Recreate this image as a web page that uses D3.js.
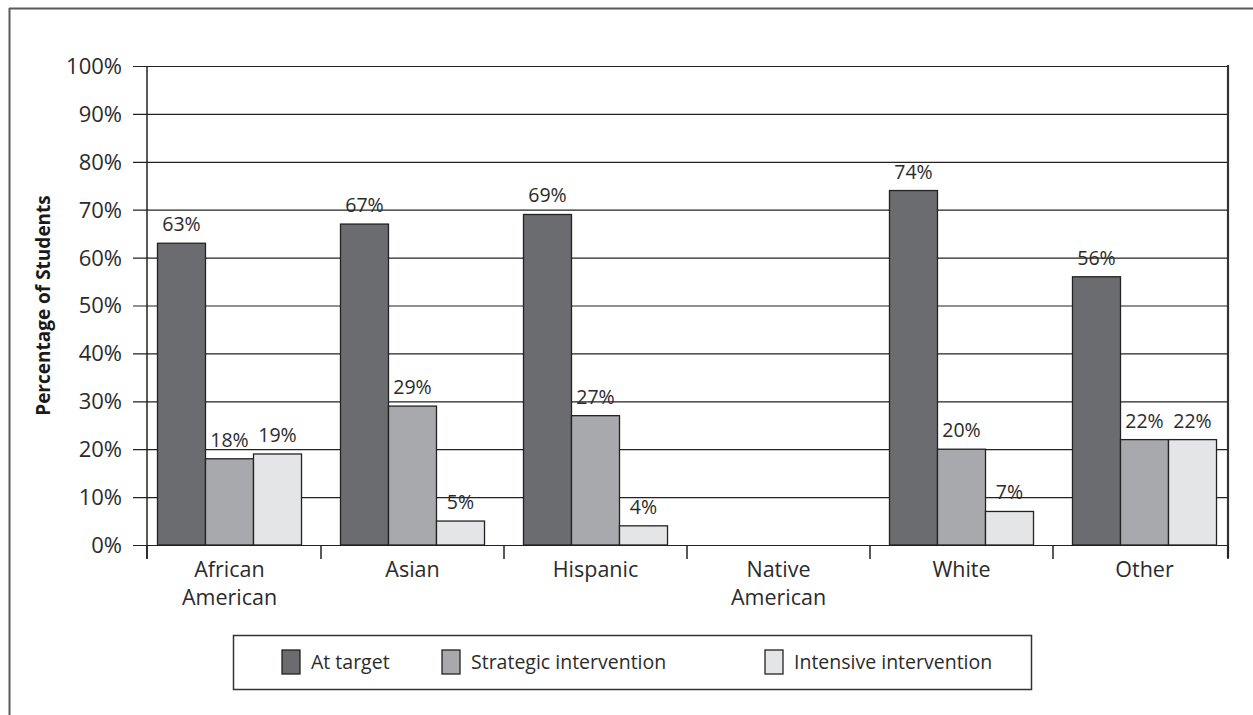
<!DOCTYPE html>
<html>
<head>
<meta charset="utf-8">
<script src="https://cdn.jsdelivr.net/npm/d3@7"></script>
<style>
  html, body { margin: 0; padding: 0; background: #fff; }
  svg { display: block; font-family: "Open Sans", Lato, sans-serif; }
</style>
</head>
<body>
<svg id="chart" width="1253" height="715"></svg>
<script>
// Student groups (two-line labels split on "\n")
const categories = ["African\nAmerican", "Asian", "Hispanic", "Native\nAmerican", "White", "Other"];
const seriesNames = ["At target", "Strategic intervention", "Intensive intervention"];
// Percent of students per group, one array per series (null = no data)
const atTarget = [63, 67, 69, null, 74, 56];
const strategic = [18, 29, 27, null, 20, 22];
const intensive = [19, 5, 4, null, 7, 22];
const yTicks = [0, 10, 20, 30, 40, 50, 60, 70, 80, 90, 100];

const seriesValues = [atTarget, strategic, intensive];
const fills = ["#6b6c70", "#a8a9ac", "#e4e5e7"];
const ink = "#222";
const textInk = "#2b2b2b";

const svg = d3.select("#chart");

// Plot frame
const plotLeft = 147, plotRight = 1228, plotTop = 66, plotBottom = 545;

const x0 = d3.scaleBand().domain(categories).range([138, 1236]).paddingInner(0).paddingOuter(0);
const groupWidth = x0.bandwidth() * 0.787;
const x1 = d3.scaleBand().domain(seriesNames).range([0, groupWidth]).padding(0);
const y = d3.scaleLinear().domain([0, 100]).range([plotBottom, plotTop]);

// Outer page frame (top and left rules)
svg.append("line").attr("x1", 9).attr("x2", 1253).attr("y1", 8.5).attr("y2", 8.5)
  .attr("stroke", "#5a5a5a").attr("stroke-width", 2);
svg.append("line").attr("x1", 9.5).attr("x2", 9.5).attr("y1", 8).attr("y2", 715)
  .attr("stroke", "#5a5a5a").attr("stroke-width", 2);

// Horizontal gridlines with percentage labels
const yAxis = d3.axisLeft(y)
  .tickValues(yTicks)
  .tickFormat(d => d + "%")
  .tickSize(plotRight - 133)
  .tickPadding(11);
const yg = svg.append("g").attr("transform", `translate(${plotRight},0)`).call(yAxis);
yg.select(".domain").remove();
yg.selectAll(".tick line").attr("stroke", ink).attr("stroke-width", 1.2);
yg.selectAll(".tick text")
  .attr("fill", textInk)
  .attr("dy", "0.34em")
  .style("font-size", "22px")
  .style("font-family", "'Open Sans', sans-serif");

// Vertical axis line and right frame edge
svg.append("line").attr("x1", plotLeft).attr("x2", plotLeft)
  .attr("y1", plotTop).attr("y2", plotBottom + 14)
  .attr("stroke", ink).attr("stroke-width", 1.5);
svg.append("line").attr("x1", plotRight).attr("x2", plotRight)
  .attr("y1", plotTop - 1).attr("y2", plotBottom + 13)
  .attr("stroke", "#333").attr("stroke-width", 2.2);

// Category separators on the baseline
const sepX = [plotLeft].concat(categories.slice(1).map(c => x0(c))).concat([plotRight]);
svg.append("g").selectAll("line").data(sepX).join("line")
  .attr("x1", d => d).attr("x2", d => d)
  .attr("y1", plotBottom).attr("y2", plotBottom + 14)
  .attr("stroke", ink).attr("stroke-width", 1.5);

// Bars
const groups = svg.append("g").selectAll("g").data(categories).join("g")
  .attr("transform", c => `translate(${x0(c) + (x0.bandwidth() - groupWidth) / 2},0)`);

const barData = (c, i) => seriesNames
  .map((s, k) => ({ s, k, v: seriesValues[k][i] }))
  .filter(d => d.v !== null);

groups.selectAll("rect").data((c, i) => barData(c, i)).join("rect")
  .attr("x", d => x1(d.s))
  .attr("y", d => y(d.v))
  .attr("width", x1.bandwidth())
  .attr("height", d => y(0) - y(d.v))
  .attr("fill", d => fills[d.k])
  .attr("stroke", ink)
  .attr("stroke-width", 1.3);

// Value labels
groups.selectAll("text.val").data((c, i) => barData(c, i)).join("text")
  .attr("class", "val")
  .attr("x", d => x1(d.s) + x1.bandwidth() / 2)
  .attr("y", d => y(d.v) - 12)
  .attr("text-anchor", "middle")
  .attr("fill", textInk)
  .style("font-size", "19.5px")
  .text(d => d.v + "%");

// Category labels
const catText = svg.append("g").selectAll("text").data(categories).join("text")
  .attr("x", c => x0(c) + x0.bandwidth() / 2)
  .attr("y", 577)
  .attr("text-anchor", "middle")
  .attr("fill", textInk)
  .style("font-size", "21.5px");
catText.selectAll("tspan").data(c => c.split("\n")).join("tspan")
  .attr("x", function () { return d3.select(this.parentNode).attr("x"); })
  .attr("dy", (d, i) => i === 0 ? 0 : 28)
  .text(d => d);

// Axis title
svg.append("text")
  .attr("transform", `translate(50,${(plotTop + plotBottom) / 2}) rotate(-90)`)
  .attr("text-anchor", "middle")
  .attr("fill", "#1a1a1a")
  .style("font-size", "19px")
  .style("font-weight", "bold")
  .text("Percentage of Students");

// Legend
const legend = svg.append("g");
legend.append("rect")
  .attr("x", 233.5).attr("y", 635.5).attr("width", 798).attr("height", 54)
  .attr("fill", "#fff").attr("stroke", "#333").attr("stroke-width", 1.5);
const legendX = [282, 442, 765];
const items = legend.selectAll("g.item").data(seriesNames).join("g")
  .attr("class", "item")
  .attr("transform", (d, i) => `translate(${legendX[i]},650)`);
items.append("rect")
  .attr("width", 18).attr("height", 24)
  .attr("fill", (d, i) => fills[i])
  .attr("stroke", ink).attr("stroke-width", 1.3);
items.append("text")
  .attr("x", 29).attr("y", 19)
  .attr("fill", textInk)
  .style("font-size", "19.5px")
  .text(d => d);
</script>
</body>
</html>
